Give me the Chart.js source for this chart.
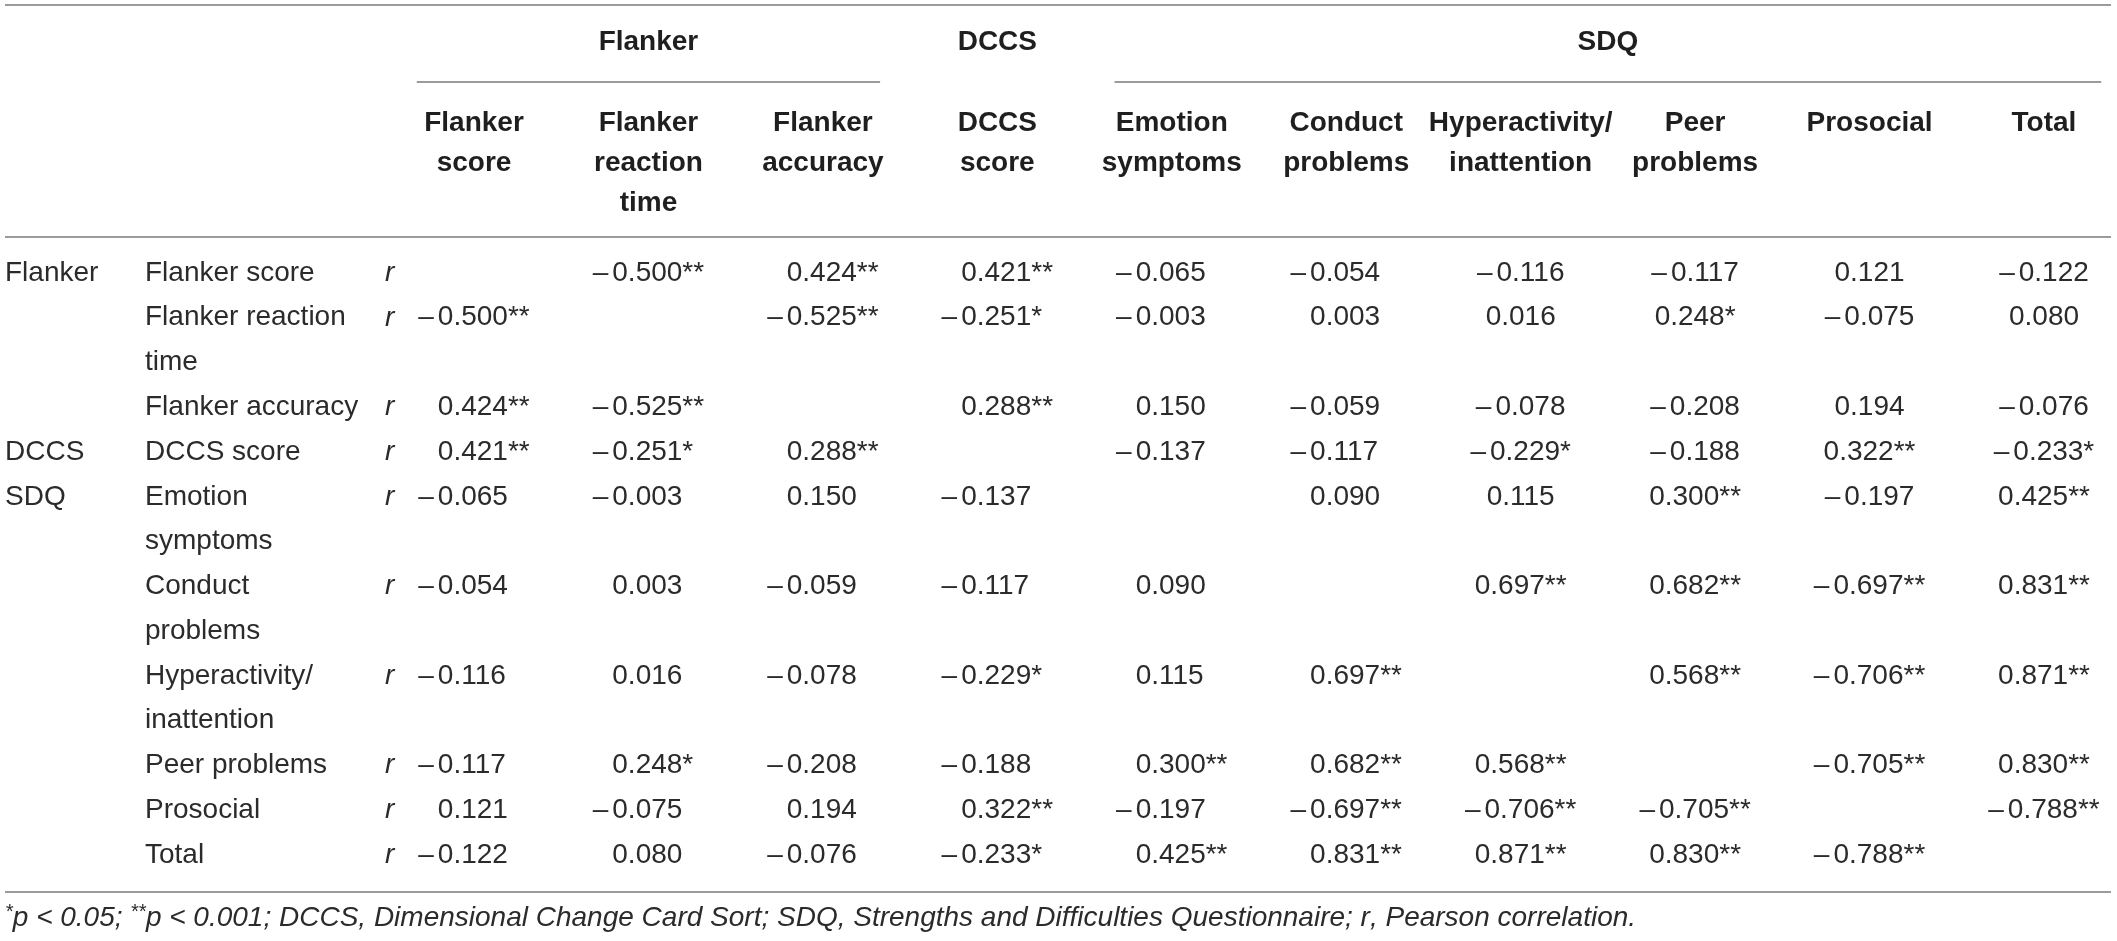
<!DOCTYPE html>
<html>
<head>
<meta charset="utf-8">
<title>Correlations: Flanker, DCCS and SDQ</title>
<script src="https://cdn.jsdelivr.net/npm/chart.js@4.4.1/dist/chart.umd.min.js"></script>
<style>
  html, body { margin: 0; padding: 0; background: #fff; }
  #wrap { width: 2117px; height: 941px; }
</style>
</head>
<body>
<div id="wrap"><canvas id="table" width="2117" height="941"></canvas></div>
<script>
// columns of the matrix (same measures as the rows)
const columns = ['Flanker score', 'Flanker reaction time', 'Flanker accuracy', 'DCCS score',
  'Emotion symptoms', 'Conduct problems', 'Hyperactivity/inattention', 'Peer problems', 'Prosocial', 'Total'];
const columnHeaderLines = [['Flanker', 'score'], ['Flanker', 'reaction', 'time'], ['Flanker', 'accuracy'],
  ['DCCS', 'score'], ['Emotion', 'symptoms'], ['Conduct', 'problems'], ['Hyperactivity/', 'inattention'],
  ['Peer', 'problems'], ['Prosocial'], ['Total']];
const rowLabelLines = [['Flanker score'], ['Flanker reaction', 'time'], ['Flanker accuracy'], ['DCCS score'],
  ['Emotion', 'symptoms'], ['Conduct', 'problems'], ['Hyperactivity/', 'inattention'], ['Peer problems'],
  ['Prosocial'], ['Total']];
const rowGroups = ['Flanker', '', '', 'DCCS', 'SDQ', '', '', '', '', ''];

const groupNames = ['Flanker', 'DCCS', 'SDQ'];
const groupFirst = [0, 3, 4];
const groupLast = [2, 3, 9];

// Pearson r, one array per row (null = diagonal)
const flankerScore = [null, -0.500, 0.424, 0.421, -0.065, -0.054, -0.116, -0.117, 0.121, -0.122];
const flankerRT = [-0.500, null, -0.525, -0.251, -0.003, 0.003, 0.016, 0.248, -0.075, 0.080];
const flankerAcc = [0.424, -0.525, null, 0.288, 0.150, -0.059, -0.078, -0.208, 0.194, -0.076];
const dccsScore = [0.421, -0.251, 0.288, null, -0.137, -0.117, -0.229, -0.188, 0.322, -0.233];
const emotion = [-0.065, -0.003, 0.150, -0.137, null, 0.090, 0.115, 0.300, -0.197, 0.425];
const conduct = [-0.054, 0.003, -0.059, -0.117, 0.090, null, 0.697, 0.682, -0.697, 0.831];
const hyper = [-0.116, 0.016, -0.078, -0.229, 0.115, 0.697, null, 0.568, -0.706, 0.871];
const peer = [-0.117, 0.248, -0.208, -0.188, 0.300, 0.682, 0.568, null, -0.705, 0.830];
const prosocial = [0.121, -0.075, 0.194, 0.322, -0.197, -0.697, -0.706, -0.705, null, -0.788];
const total = [-0.122, 0.080, -0.076, -0.233, 0.425, 0.831, 0.871, 0.830, -0.788, null];

// significance: 1 = *p < 0.05, 2 = **p < 0.001
const stars = [
  [0, 2, 2, 2, 0, 0, 0, 0, 0, 0],
  [2, 0, 2, 1, 0, 0, 0, 1, 0, 0],
  [2, 2, 0, 2, 0, 0, 0, 0, 0, 0],
  [2, 1, 2, 0, 0, 0, 1, 0, 2, 1],
  [0, 0, 0, 0, 0, 0, 0, 2, 0, 2],
  [0, 0, 0, 0, 0, 0, 2, 2, 2, 2],
  [0, 0, 0, 1, 0, 2, 0, 2, 2, 2],
  [0, 1, 0, 0, 2, 2, 2, 0, 2, 2],
  [0, 0, 0, 2, 0, 2, 2, 2, 0, 2],
  [0, 0, 0, 1, 2, 2, 2, 2, 2, 0]
];
const rows = [flankerScore, flankerRT, flankerAcc, dccsScore, emotion, conduct, hyper, peer, prosocial, total];

const footnote = [
  ['*', 'p < 0.05; '], ['**', 'p < 0.001; DCCS, Dimensional Change Card Sort; SDQ, Strengths and Difficulties Questionnaire; '],
  ['', 'r'], ['', ', Pearson correlation.']
];

// one y slot per text line, so wrapped row labels take two slots
const slots = [];
const rowSlot = [];
rowLabelLines.forEach((lines, r) => {
  rowSlot.push(slots.length);
  lines.forEach((l, k) => slots.push(k === 0 ? columns[r] : columns[r] + ' (cont.)'));
});

const cells = [];
rows.forEach((vals, r) => {
  vals.forEach((v, c) => {
    if (v === null) return;
    cells.push({ x: columns[c], y: slots[rowSlot[r]], v: v, s: stars[r][c], col: c });
  });
});

const FONT = '"Liberation Sans", Arial, Helvetica, sans-serif';
const TEXT = '#2b2b2b';
const RULE = '#9b9b9b';

function fmt(v) {
  return Math.abs(v).toFixed(3);
}

const tablePlugin = {
  id: 'tableText',
  afterDatasetsDraw(chart) {
    const ctx = chart.ctx;
    const x = chart.scales.x;
    const y = chart.scales.y;
    const left = 5, right = chart.width - 6;
    const step = x.getPixelForValue(1) - x.getPixelForValue(0);
    const headRule = y.getPixelForValue(0) - 36;
    const footRule = y.getPixelForValue(slots.length - 1) + 37;

    ctx.save();
    // rules
    ctx.strokeStyle = RULE;
    ctx.lineWidth = 2;
    const hline = (x0, x1, yy) => { ctx.beginPath(); ctx.moveTo(x0, yy); ctx.lineTo(x1, yy); ctx.stroke(); };
    hline(left, right, 5);
    hline(left, right, headRule);
    hline(left, right, footRule);
    groupNames.forEach((g, i) => {
      if (groupFirst[i] === groupLast[i]) return;
      const a = x.getPixelForValue(groupFirst[i]) - step / 2 + 30;
      const b = Math.min(right, x.getPixelForValue(groupLast[i]) + step / 2 - 30);
      hline(a, b, 82);
    });

    // header texts
    ctx.fillStyle = '#1f1f1f';
    ctx.textBaseline = 'middle';
    ctx.textAlign = 'center';
    ctx.font = 'bold 28px ' + FONT;
    groupNames.forEach((g, i) => {
      const cx = (x.getPixelForValue(groupFirst[i]) + x.getPixelForValue(groupLast[i])) / 2;
      ctx.fillText(g, cx, 42);
    });
    columnHeaderLines.forEach((lines, c) => {
      lines.forEach((l, k) => ctx.fillText(l, x.getPixelForValue(c), 123 + k * 40));
    });

    // row labels
    ctx.fillStyle = TEXT;
    ctx.textAlign = 'left';
    rowLabelLines.forEach((lines, r) => {
      const yy = y.getPixelForValue(rowSlot[r]);
      ctx.font = '28px ' + FONT;
      if (rowGroups[r]) ctx.fillText(rowGroups[r], 5, yy);
      lines.forEach((l, k) => ctx.fillText(l, 145, y.getPixelForValue(rowSlot[r] + k)));
      ctx.font = 'italic 28px ' + FONT;
      ctx.fillText('r', 385, yy);
    });

    // cell values, from the dataset elements
    ctx.font = '28px ' + FONT;
    const dash = '\u2013';
    const dashW = ctx.measureText(dash).width + 4;
    const numW = ctx.measureText('0.000').width;
    const starW = ctx.measureText('**').width;
    const tmplW = dashW + numW + starW;
    const meta = chart.getDatasetMeta(0);
    meta.data.forEach((el, i) => {
      const d = cells[i];
      const num = fmt(d.v);
      const st = '*'.repeat(d.s);
      let x0;
      if (d.col < 6) {
        x0 = el.x - tmplW / 2 + dashW;           // decimal-aligned columns
      } else {
        const w = (d.v < 0 ? dashW : 0) + ctx.measureText(num + st).width;
        x0 = el.x - w / 2 + (d.v < 0 ? dashW : 0);  // centred columns
      }
      ctx.textAlign = 'left';
      if (d.v < 0) ctx.fillText(dash, x0 - dashW, el.y);
      ctx.fillText(num + st, x0, el.y);
    });

    // footnote
    let fx = 5;
    const fy = footRule + 26;
    footnote.forEach(([sup, txt]) => {
      if (sup) {
        ctx.font = 'italic 20px ' + FONT;
        ctx.fillText(sup, fx, fy - 6);
        fx += ctx.measureText(sup).width;
      }
      ctx.font = 'italic 28px ' + FONT;
      ctx.fillText(txt, fx, fy);
      fx += ctx.measureText(txt).width;
    });
    ctx.restore();
  }
};

new Chart(document.getElementById('table'), {
  type: 'scatter',
  data: {
    datasets: [{
      label: 'r',
      data: cells,
      pointRadius: 0,
      pointHoverRadius: 0
    }]
  },
  options: {
    responsive: false,
    animation: false,
    events: [],
    layout: { padding: { left: 474, right: 73, top: 273, bottom: 86 } },
    scales: {
      x: { type: 'category', labels: columns, offset: false, display: false },
      y: { type: 'category', labels: slots, offset: false, display: false }
    },
    plugins: { legend: { display: false }, tooltip: { enabled: false } }
  },
  plugins: [tablePlugin]
});
</script>
</body>
</html>
